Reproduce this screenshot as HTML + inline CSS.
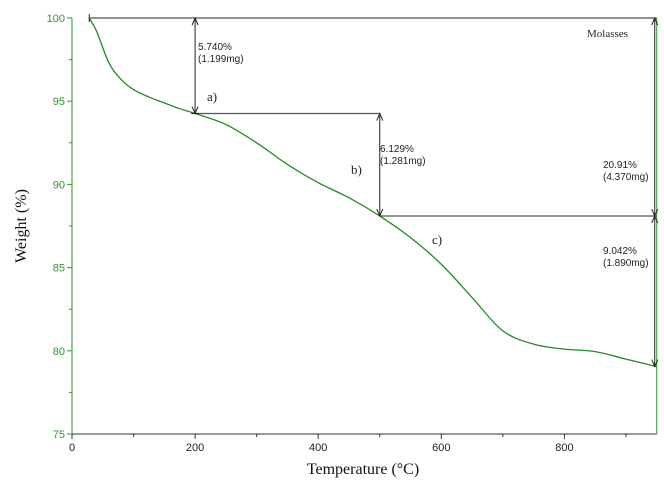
<!DOCTYPE html>
<html><head><meta charset="utf-8"><style>
body{margin:0;background:#fff;}
svg{display:block;}
</style></head><body>
<svg id="chart" width="664" height="485" viewBox="0 0 664 485">
<g id="axes"></g>
<path id="curve" fill="none" stroke="#1f8f1f" stroke-width="1.3"></path>
<g id="ann"></g>
</svg>
<script>
const temps=[28,40,60,80,100,125,150,175,200,250,300,350,400,450,500,550,600,650,700,750,800,850,900,950];
const weights=[100,99.2,97.3,96.3,95.7,95.25,94.9,94.55,94.26,93.6,92.5,91.2,90.1,89.2,88.1,86.8,85.2,83.2,81.2,80.4,80.1,79.95,79.5,79.05];
const xTicks=[0,200,400,600,800];
const yTicks=[75,80,85,90,95,100];
const steps=[[200,94.26],[500,88.1],[950,79.05]];
const ns="http://www.w3.org/2000/svg";
const X=t=>72+t*0.6155, Y=w=>18+(100-w)*16.64;
function mk(tag,at,parent,txt){const e=document.createElementNS(ns,tag);for(const k in at)e.setAttribute(k,at[k]);if(txt!==undefined)e.textContent=txt;parent.appendChild(e);return e;}
const SANS='font-family:"Liberation Sans",sans-serif', SERIF='font-family:"Liberation Serif",serif';
const ax=document.getElementById('axes');
let l=mk('line',{x1:X(0),y1:Y(100),x2:X(0),y2:Y(75),stroke:'#2a9a2a','stroke-width':1},ax);

l=mk('line',{x1:X(950),y1:Y(100),x2:X(950),y2:Y(75),stroke:'#2a9a2a','stroke-width':1},ax);

l=mk('line',{x1:X(0),y1:Y(75),x2:X(950),y2:Y(75),stroke:'#333','stroke-width':1},ax);

for(let t=0;t<=900;t+=100){const m=mk('line',{x1:X(t),y1:Y(75),x2:X(t),y2:Y(75)+(t%200?3:5),stroke:'#333'},ax);}
xTicks.forEach(t=>{const e=mk('text',{x:X(t),y:451,'text-anchor':'middle','font-size':11,fill:'#222',style:SANS},ax,t);});
for(let w=75;w<=100;w+=2.5){const m=mk('line',{x1:X(0)-(w%5?3:5),y1:Y(w),x2:X(0),y2:Y(w),stroke:'#2a9a2a'},ax);}
yTicks.forEach(w=>{const e=mk('text',{x:X(0)-7,y:Y(w)+4,'text-anchor':'end','font-size':11,fill:'#2a9a2a',style:SANS},ax,w);});
let e=mk('text',{x:363,y:474,'text-anchor':'middle','font-size':16,fill:'#111',style:SERIF},ax,'Temperature (°C)');

e=mk('text',{x:0,y:0,transform:'translate(26,226) rotate(-90)','text-anchor':'middle','font-size':16,fill:'#111',style:SERIF},ax,'Weight (%)');

let d='';temps.forEach((t,i)=>{const px=X(t),py=Y(weights[i]);if(i===0)d+='M'+px+','+py;else{const p0=i>1?[X(temps[i-2]),Y(weights[i-2])]:[X(temps[i-1]),Y(weights[i-1])],p1=[X(temps[i-1]),Y(weights[i-1])],p3=i<temps.length-1?[X(temps[i+1]),Y(weights[i+1])]:[px,py];const c1=[p1[0]+(px-p0[0])/6,p1[1]+(py-p0[1])/6],c2=[px-(p3[0]-p1[0])/6,py-(p3[1]-p1[1])/6];d+=`C${c1},${c2},${px},${py}`;}});
document.getElementById('curve').setAttribute('d',d);
const an=document.getElementById('ann');const G='#555';
function hl(x1,x2,y,n){const q=mk('line',{x1,y1:y,x2,y2:y,stroke:G,'stroke-width':1.2},an);}
function arrow(x,y1,y2,n){const q=mk('line',{x1:x,y1,x2:x,y2,stroke:'#222','stroke-width':1},an);
mk('path',{d:`M${x-3},${y1+7}L${x},${y1}L${x+3},${y1+7}M${x-3},${y2-7}L${x},${y2}L${x+3},${y2-7}`,fill:'none',stroke:'#222'},an);}
function txt(x,y,s,n,sz,fam){const q=mk('text',{x,y,'font-size':sz||10,fill:'#222',style:fam||SANS},an,s);}
const y0=Y(100),ya=Y(steps[0][1]),yb=Y(steps[1][1]),yc=Y(steps[2][1]);
hl(X(28),X(950),y0,'top-reference-line');
mk('line',{x1:X(28),y1:y0-4,x2:X(28),y2:y0+4,stroke:'#222'},an);
hl(X(200),X(500),ya,'step-a-line');
hl(X(500),X(950),yb,'step-b-line');
mk('line',{x1:X(200)-4,y1:ya,x2:X(200)+4,y2:ya,stroke:'#222'},an);
arrow(X(200),y0,ya,'arrow-a');arrow(X(500),ya,yb,'arrow-b');
arrow(X(950)-2,y0,yb,'arrow-total');arrow(X(950)-2,yb,yc,'arrow-c');
txt(198,50,'5.740%','label-a-pct');txt(198,62,'(1.199mg)','label-a-mg');
txt(207,101,'a)','step-a-label',13,SERIF);
txt(380,152,'6.129%','label-b-pct');txt(380,164,'(1.281mg)','label-b-mg');
txt(351,174,'b)','step-b-label',13,SERIF);
txt(432,244,'c)','step-c-label',13,SERIF);
txt(603,168,'20.91%','label-total-pct');txt(603,180,'(4.370mg)','label-total-mg');
txt(603,254,'9.042%','label-c-pct');txt(603,266,'(1.890mg)','label-c-mg');
txt(587,37,'Molasses','sample-label',11,SERIF);
</script>
</body></html>
